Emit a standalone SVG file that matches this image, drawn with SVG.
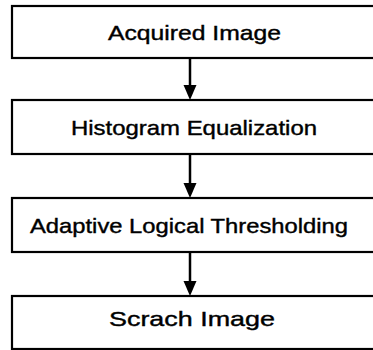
<svg xmlns="http://www.w3.org/2000/svg" width="373" height="350" viewBox="0 0 373 350">
<style>
.box{fill:#fff;stroke:#000;stroke-width:2.2}
.lbl{font-family:"Liberation Sans",Arial,sans-serif;font-size:21px;fill:#000;stroke:#000;stroke-width:0.4}
.conn{stroke:#000;stroke-width:2.5;fill:none}
.head{fill:#000}
</style>
<rect width="373" height="350" fill="#fff"/>
<g id="connectors">
<line class="conn" x1="190" y1="58" x2="190" y2="86"/>
<path class="head" d="M183.5,85 L196.5,85 L190,100 Z"/>
<line class="conn" x1="190" y1="154" x2="190" y2="184"/>
<path class="head" d="M183.5,183 L196.5,183 L190,198 Z"/>
<line class="conn" x1="190" y1="252" x2="190" y2="282"/>
<path class="head" d="M183.5,281 L196.5,281 L190,296 Z"/>
</g>
<g id="n1">
<rect class="box" x="12" y="6" width="380" height="52"/>
<text class="lbl" x="108" y="40" textLength="173" lengthAdjust="spacingAndGlyphs">Acquired Image</text>
</g>
<g id="n2">
<rect class="box" x="12" y="100" width="380" height="54"/>
<text class="lbl" x="71" y="135" textLength="246" lengthAdjust="spacingAndGlyphs">Histogram Equalization</text>
</g>
<g id="n3">
<rect class="box" x="12" y="198" width="380" height="54"/>
<text class="lbl" x="30" y="233" textLength="318" lengthAdjust="spacingAndGlyphs">Adaptive Logical Thresholding</text>
</g>
<g id="n4">
<rect class="box" x="12" y="296" width="380" height="53"/>
<text class="lbl" x="109" y="326" textLength="166" lengthAdjust="spacingAndGlyphs">Scrach Image</text>
</g>
</svg>
